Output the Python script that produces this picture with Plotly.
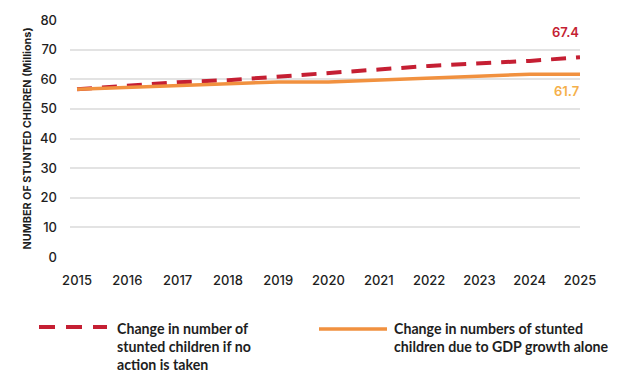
import plotly.graph_objects as go

years = [2015, 2016, 2017, 2018, 2019, 2020, 2021, 2022, 2023, 2024, 2025]
no_action = [56.6, 57.8, 59.0, 59.7, 60.8, 62.0, 63.3, 64.5, 65.3, 66.2, 67.4]
gdp_only = [56.6, 57.2, 57.8, 58.5, 59.1, 59.1, 59.8, 60.4, 61.0, 61.7, 61.7]

legend_no_action = ["Change in number of", "stunted children if no", "action is taken"]
legend_gdp = ["Change in numbers of stunted", "children due to GDP growth alone"]

RED = "#c51f33"
ORANGE = "#f1913f"
ORANGE_LABEL = "#f5b04a"
TEXT = "#1e1e1e"
FONT = "Inter"
LEGEND_FONT = "Lato"

W, H = 618, 372
M = dict(l=70, r=38, t=15, b=115)
plot_w = W - M["l"] - M["r"]
plot_h = H - M["t"] - M["b"]


def px_x(px):
    """Pixel column -> paper x."""
    return (px - M["l"]) / plot_w


def px_y(py):
    """Pixel row -> paper y."""
    return (H - M["b"] - py) / plot_h


fig = go.Figure()
fig.add_trace(go.Scatter(
    x=years, y=no_action, mode="lines", name="no action",
    line=dict(color=RED, width=4, dash="15px,10px"),
))
fig.add_trace(go.Scatter(
    x=years, y=gdp_only, mode="lines", name="GDP growth alone",
    line=dict(color=ORANGE, width=3.5),
))

# end-of-line value labels
fig.add_annotation(x=years[-1], y=no_action[-1], text=f"{no_action[-1]}",
                   xanchor="right", yanchor="bottom", yshift=15, xshift=1,
                   showarrow=False,
                   font=dict(family=FONT, size=13, color=RED, weight=600))
fig.add_annotation(x=years[-1], y=gdp_only[-1], text=f"{gdp_only[-1]}",
                   xanchor="right", yanchor="top", yshift=-7, xshift=1,
                   showarrow=False,
                   font=dict(family=FONT, size=13, color=ORANGE_LABEL, weight=600))


# legend drawn below the plot: a line sample followed by wrapped text
def legend_entry(x0, x1, y_line, text_x, lines, color, dash, width):
    fig.add_shape(type="line", xref="paper", yref="paper",
                  x0=px_x(x0), x1=px_x(x1), y0=px_y(y_line), y1=px_y(y_line),
                  line=dict(color=color, width=width, dash=dash))
    for i, t in enumerate(lines):
        fig.add_annotation(xref="paper", yref="paper",
                           x=px_x(text_x), y=px_y(330 + 18.3 * i),
                           xanchor="left", yanchor="middle", showarrow=False,
                           text=t,
                           font=dict(family=LEGEND_FONT, size=14.2, color=TEXT,
                                     weight=700))


legend_entry(39, 107, 328.5, 115, legend_no_action, RED, "16px,11px", 4)
legend_entry(319, 387, 330.5, 392, legend_gdp, ORANGE, "solid", 3.5)

fig.update_layout(
    width=W, height=H,
    margin=M,
    paper_bgcolor="white", plot_bgcolor="white",
    font=dict(family=FONT, color=TEXT),
    showlegend=False,
    xaxis=dict(
        range=[2014.86, 2025.0], tickvals=years, ticktext=[str(y) for y in years],
        showgrid=False, zeroline=False, showline=False,
        ticks="", ticklabelstandoff=14,
        tickfont=dict(family=FONT, size=13, color=TEXT, weight=500),
    ),
    yaxis=dict(
        range=[0, 80], dtick=10, showgrid=True, gridcolor="#e3e3e3", gridwidth=1.5,
        zeroline=False, showline=False, ticks="", ticklabelstandoff=12,
        tickfont=dict(family=FONT, size=13, color=TEXT, weight=500),
        title=dict(text="NUMBER OF STUNTED CHIDREN (Millions)", standoff=6,
                   font=dict(family=FONT, size=10.8, color=TEXT, weight=700)),
    ),
)

fig.write_html("out.html")
